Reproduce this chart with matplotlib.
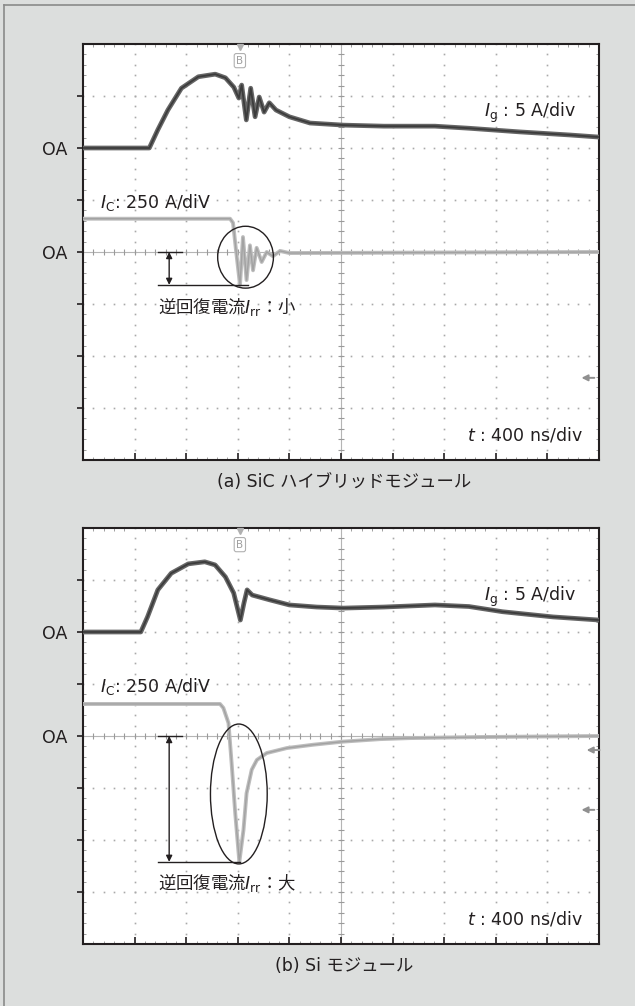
import numpy as np
import matplotlib
matplotlib.use("Agg")
import matplotlib.pyplot as plt
from matplotlib.patches import Ellipse
from matplotlib.lines import Line2D

plt.rcParams['font.family'] = ['DejaVu Sans', 'Noto Sans CJK JP']
plt.rcParams['mathtext.fontset'] = 'dejavusans'

# scope settings
T_DIV = 400      # ns/div
IG_DIV = 5       # A/div
IC_DIV = 250     # A/div
IG_ZERO = 6      # div position of Ig 0A
IC_ZERO = 4      # div position of Ic 0A

# (a) SiC hybrid module
t_ig_a = [0, 514, 580, 658, 763, 894, 1025, 1104, 1169, 1208, 1230, 1266, 1300, 1334,
          1366, 1404, 1444, 1496, 1600, 1760, 2020, 2332, 2728, 2992, 3384, 3776, 4000]
ig_a = [0, 0, 1.75, 3.65, 5.75, 6.85, 7.1, 6.75, 5.85, 4.8, 6.05, 2.7, 5.75, 3.0,
        4.9, 3.45, 4.35, 3.65, 3.0, 2.4, 2.2, 2.1, 2.1, 1.9, 1.55, 1.25, 1.05]
t_ic_a = [0, 1140, 1163, 1186, 1217, 1240, 1268, 1294, 1318, 1346, 1385, 1424, 1472,
          1528, 1600, 4000]
ic_a = [160, 160, 140, 10, -158, 72, -135, 32, -88, 20, -48, 0, -20, 5, -5, 0]

# (b) Si module
t_ig_b = [0, 448, 500, 580, 684, 816, 944, 1024, 1104, 1168, 1220, 1248, 1272, 1312,
          1444, 1600, 1812, 2020, 2332, 2728, 2992, 3252, 3644, 4000]
ig_b = [0, 0, 1.45, 4.05, 5.65, 6.55, 6.75, 6.45, 5.3, 3.75, 1.15, 2.8, 4.05, 3.55,
        3.1, 2.6, 2.4, 2.3, 2.4, 2.6, 2.45, 1.95, 1.45, 1.15]
t_ic_b = [0, 1062, 1088, 1128, 1152, 1180, 1212, 1244, 1268, 1308, 1348, 1424, 1580,
          1784, 2016, 2304, 2536, 3076, 4000]
ic_b = [154, 154, 135, 62, -130, -370, -605, -452, -275, -162, -115, -82, -58,
        -42, -27, -15, -10, -5, 0]

captions = ['(a) SiC ハイブリッドモジュール', '(b) Si モジュール']
irr_labels = ['小', '大']

BG = '#dcdedd'
INK = '#231f20'
DOT = '#a9a9a9'


def draw_grid(ax):
    fine_x = np.arange(0, 10.01, 0.2)
    fine_y = np.arange(0, 8.01, 0.2)
    for gx in range(1, 10):
        if gx == 5:
            continue
        ax.plot(np.full_like(fine_y, gx), fine_y, ls='none', marker='s',
                ms=1.2, mew=0, color=DOT, zorder=1)
    for gy in range(1, 8):
        if gy == 4:
            continue
        ax.plot(fine_x, np.full_like(fine_x, gy), ls='none', marker='s',
                ms=1.2, mew=0, color=DOT, zorder=1)
    # centre crosshair with minor marks
    ax.axvline(5, color='#b5b5b5', lw=0.8, zorder=1)
    ax.axhline(4, color='#b5b5b5', lw=0.8, zorder=1)
    ax.plot(np.full_like(fine_y, 5), fine_y, ls='none', marker='_', ms=4,
            mew=0.8, color='#9a9a9a', zorder=1)
    ax.plot(fine_x, np.full_like(fine_x, 4), ls='none', marker='|', ms=4,
            mew=0.8, color='#9a9a9a', zorder=1)


def draw_panel(ax, t_ig, ig, t_ic, ic, ell, bot_end, label_y, irr_word, arrows):
    ax.set_facecolor('white')
    ax.set_xlim(0, 10)
    ax.set_ylim(0, 8)
    draw_grid(ax)

    x_ig = np.array(t_ig) / T_DIV
    y_ig = IG_ZERO + np.array(ig) / IG_DIV
    x_ic = np.array(t_ic) / T_DIV
    y_ic = IC_ZERO + np.array(ic) / IC_DIV

    ax.plot(x_ic, y_ic, color='#bdbdbd', lw=2.8, zorder=3, solid_joinstyle='round')
    ax.plot(x_ic, y_ic, color='#a2a2a2', lw=1.0, zorder=3)
    ax.plot(x_ig, y_ig, color='#666666', lw=3.4, zorder=3, solid_joinstyle='round')
    ax.plot(x_ig, y_ig, color='#3c3c3c', lw=1.3, zorder=3)

    # Irr marker lines, arrow and ellipse
    y_min = y_ic.min()
    ax.plot([1.45, 1.91], [IC_ZERO, IC_ZERO], color=INK, lw=1.0, zorder=4)
    ax.plot([1.45, bot_end], [y_min, y_min], color=INK, lw=1.0, zorder=4)
    ax.annotate('', xy=(1.67, IC_ZERO), xytext=(1.67, y_min),
                arrowprops=dict(arrowstyle='<|-|>', color=INK, lw=1.0,
                                mutation_scale=9, shrinkA=0, shrinkB=0), zorder=4)
    ax.add_patch(Ellipse(ell[:2], ell[2], ell[3], fill=False, ec=INK, lw=1.0, zorder=4))
    ax.text(1.45, label_y, '逆回復電流$I_{\\mathrm{rr}}$\uff1a' + irr_word, fontsize=12.5,
            family='Noto Sans CJK JP', color=INK, va='center', ha='left', zorder=5)

    ax.text(9.55, 6.67, '$I_{\\mathrm{g}}$ : 5 A/div', fontsize=12.5, color=INK,
            va='center', ha='right', zorder=5)
    ax.text(0.33, 4.96, '$I_{\\mathrm{C}}$: 250 A/diV', fontsize=12.5, color=INK,
            va='center', ha='left', zorder=5)
    ax.text(9.69, 0.48, '$t$ : 400 ns/div', fontsize=12.5, color=INK,
            va='center', ha='right', zorder=5)

    # trigger marker
    ax.plot([3.04], [7.95], marker='v', ms=4.5, color='#b0b0b0', zorder=5, clip_on=False)
    ax.text(3.04, 7.68, 'B', fontsize=7.5, color='#a0a0a0', ha='center', va='center',
            zorder=5, bbox=dict(boxstyle='round,pad=0.2', fc='white', ec='#b0b0b0', lw=0.8))

    for ax_x, ax_y in arrows:
        ax.annotate('', xy=(ax_x, ax_y), xytext=(ax_x + 0.25, ax_y),
                    arrowprops=dict(arrowstyle='-|>', color='#909090', lw=1.4,
                                    mutation_scale=9, shrinkA=0, shrinkB=0), zorder=5)

    for s in ax.spines.values():
        s.set_color(INK)
        s.set_linewidth(1.5)
    ax.set_xticks(range(1, 10))
    ax.set_xticks(np.arange(0, 10.01, 0.2), minor=True)
    ax.set_yticks(range(1, 8))
    ax.set_yticks(np.arange(0, 8.01, 0.2), minor=True)
    ax.set_xticklabels([])
    ax.set_yticklabels(['OA' if v in (IG_ZERO, IC_ZERO) else '' for v in range(1, 8)])
    ax.tick_params(axis='y', which='major', direction='out', length=4.5, width=1.2,
                   color=INK, labelsize=12.5, labelcolor=INK, pad=6.5, left=True, right=False)
    ax.tick_params(axis='x', which='major', direction='in', length=5, width=1.2,
                   color=INK, bottom=True, top=False)
    ax.tick_params(which='minor', direction='in', length=2.2, width=0.6, color='#8f8f8f',
                   left=True, right=True, top=True, bottom=True)


fig = plt.figure(figsize=(6.35, 10.06), dpi=100, facecolor=BG)
ax_a = fig.add_axes([83 / 635, 1 - 460 / 1006, 516 / 635, 416 / 1006])
ax_b = fig.add_axes([83 / 635, 1 - 944 / 1006, 516 / 635, 416 / 1006])

draw_panel(ax_a, t_ig_a, ig_a, t_ic_a, ic_a, (3.15, 3.9, 1.08, 1.19), 3.2, 2.95,
           irr_labels[0], [(9.66, 1.58)])
draw_panel(ax_b, t_ig_b, ig_b, t_ic_b, ic_b, (3.02, 2.885, 1.1, 2.69), 3.04, 1.17,
           irr_labels[1], [(9.76, 3.73), (9.66, 2.58)])

fig.text(344 / 635, 1 - 482 / 1006, captions[0], fontsize=12.5, color=INK,
         ha='center', va='center')
fig.text(344 / 635, 1 - 966 / 1006, captions[1], fontsize=12.5, color=INK,
         ha='center', va='center')

# outer frame
fig.add_artist(Line2D([4 / 635, 1], [1 - 5 / 1006, 1 - 5 / 1006], color='#8a8a8a', lw=1.2))
fig.add_artist(Line2D([4 / 635, 4 / 635], [0, 1 - 5 / 1006], color='#8a8a8a', lw=1.2))

fig.savefig('out.png', dpi=100, facecolor=BG)
